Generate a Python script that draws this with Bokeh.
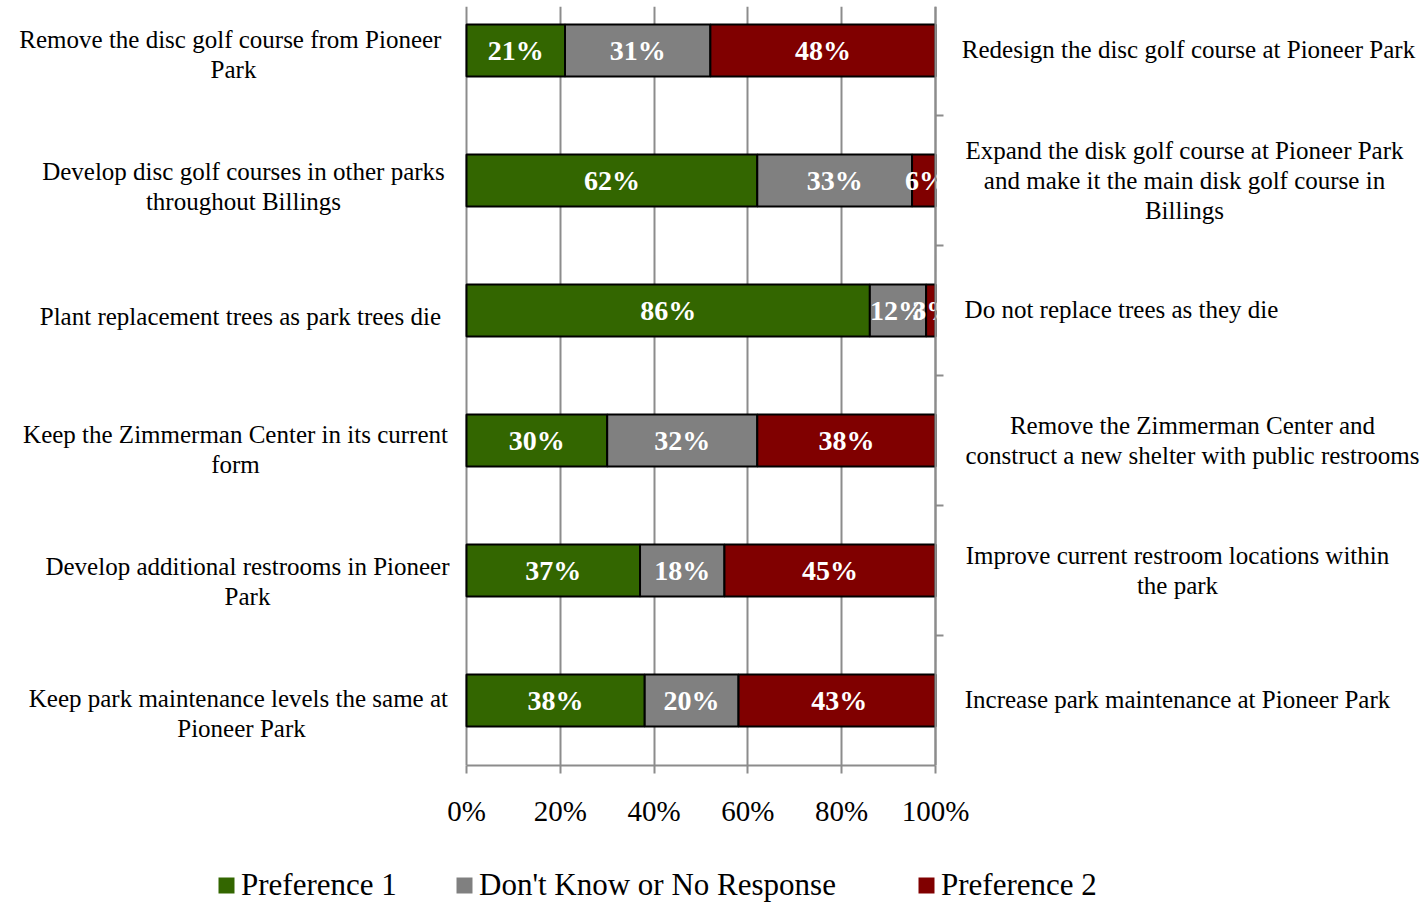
from bokeh.plotting import figure
from bokeh.models import ColumnDataSource, Range1d, FixedTicker, Legend, LegendItem
from bokeh.layouts import column
from bokeh.embed import file_html
from bokeh.resources import INLINE
from bokeh.core.properties import value

# ---------------- data (top row first) ----------------
left_labels = [
    "Remove the disc golf course  from Pioneer\nPark",
    "Develop disc golf courses in other parks\nthroughout Billings",
    "Plant replacement trees as  park trees die",
    "Keep the Zimmerman Center in its current\nform",
    "Develop additional restrooms in Pioneer\nPark",
    "Keep park maintenance levels the same  at\nPioneer Park",
]
right_labels = [
    "Redesign the disc golf course at Pioneer Park",
    "Expand the disk golf course at Pioneer Park\nand make it the main disk golf course in\nBillings",
    "Do not replace trees as they die",
    "Remove the Zimmerman Center and\nconstruct a new shelter with public restrooms",
    "Improve current restroom locations within\nthe park",
    "Increase park maintenance at Pioneer Park",
]
pref1 = [21, 62, 86, 30, 37, 38]
dont_know = [31, 33, 12, 32, 18, 20]
pref2 = [48, 6, 3, 38, 45, 43]
series_names = ["Preference 1", "Don't Know or No Response", "Preference 2"]
x_ticks = [0, 20, 40, 60, 80, 100]
x_tick_labels = ["0%", "20%", "40%", "60%", "80%", "100%"]

# ---------------- styling / layout (page pixels) ----------------
FONT = "Liberation Serif"
colors = ["#336600", "#808080", "#800000"]
grid_col = "#8c8c8c"
left_center_px = [233, 243, 243, 235, 247, 241]      # label block centres
right_center_px = [1188, 1184, 1121, 1192, 1177, 1177]
left_dy_px = [4, 6, 6, 9, 11, 13]                     # label block shift down
right_dy_px = [-1, 0, -1, 0, 0, -1]
legend_x_px = [216, 454, 916]
PAGE_W = 1426
ZERO_PX, HUNDRED_PX, FRAME_T, FRAME_B = 466, 935, 6, 765
ROW0_Y, ROW_STEP = 700, 130                           # bottom row centre, row pitch
MAIN_H = 855
LEG_H = 48
TICK_OUT = 8

n = len(pref1)
ypos = [n - 1 - i for i in range(n)]
PX_PER_UNIT = (HUNDRED_PX - ZERO_PX) / 100.0


def px_to_x(px):
    return (px - ZERO_PX) / PX_PER_UNIT


def px_to_row(py):
    return (ROW0_Y - py) / ROW_STEP


# ---------------- main chart (frame spans full width) ----------------
p = figure(frame_width=PAGE_W, frame_height=FRAME_B - FRAME_T,
           min_border_left=0, min_border_right=0,
           min_border_top=FRAME_T, min_border_bottom=MAIN_H - FRAME_B,
           x_range=Range1d(px_to_x(0), px_to_x(PAGE_W)),
           y_range=Range1d(px_to_row(FRAME_B), px_to_row(FRAME_T)),
           output_backend="svg", toolbar_location=None, y_axis_location=None)
p.outline_line_color = None
p.ygrid.grid_line_color = None
p.xgrid.ticker = FixedTicker(ticks=x_ticks)
p.xgrid.grid_line_color = grid_col
p.xgrid.grid_line_width = 2

lefts = [[0] * n, pref1, [a + b for a, b in zip(pref1, dont_know)]]
vals = [pref1, dont_know, pref2]
for k in range(3):
    rights = [min(l + v, 100) for l, v in zip(lefts[k], vals[k])]
    mids = [(l + l + v) / 2 for l, v in zip(lefts[k], vals[k])]
    src = ColumnDataSource(dict(y=ypos, left=lefts[k], right=rights, mid=mids,
                                lab=[f"{v}%" for v in vals[k]]))
    p.hbar(y="y", left="left", right="right", height=0.4, source=src,
           fill_color=colors[k], line_color="black", line_width=2)

# value labels: text beyond the 100% edge is cut like in the original
cut = ColumnDataSource(dict(x=[], y=[], t=[]))
for k in range(3):
    mids = [(l + l + v) / 2 for l, v in zip(lefts[k], vals[k])]
    src = ColumnDataSource(dict(x=mids, y=ypos, t=[f"{v}%" for v in vals[k]]))
    p.text(x="x", y="y", text="t", source=src, text_align="center",
           text_baseline="middle", text_color="white", text_font=value(FONT),
           text_font_size="28px", text_font_style="bold")
# white mask right of 100% hides overflowing value labels
p.hbar(y=ypos, left=[100.3] * n, right=[100 + 60 / PX_PER_UNIT] * n, height=0.6,
       fill_color="white", line_color=None)
p.xgrid.level = "underlay"

# right category axis: line at 100% plus outward ticks between categories
bounds = [i + 0.5 for i in range(n - 1)]
p.segment(x0=[100] * len(bounds), x1=[100 + TICK_OUT / PX_PER_UNIT] * len(bounds),
          y0=bounds, y1=bounds, line_color=grid_col, line_width=2)
p.segment(x0=[100], x1=[100], y0=[px_to_row(FRAME_B)], y1=[px_to_row(FRAME_T)],
          line_color=grid_col, line_width=2)

xa = p.xaxis[0]
xa.ticker = FixedTicker(ticks=x_ticks)
xa.bounds = (0, 100)
xa.major_label_overrides = {t: l for t, l in zip(x_ticks, x_tick_labels)}
xa.axis_line_color = grid_col
xa.axis_line_width = 2
xa.major_tick_line_color = grid_col
xa.major_tick_line_width = 2
xa.major_tick_out = TICK_OUT
xa.major_tick_in = 0
xa.minor_tick_line_color = None
xa.major_label_text_font = FONT
xa.major_label_text_font_size = "29px"
xa.major_label_text_color = "black"
xa.major_label_standoff = 21

# category texts on both sides
for labels, centers, dys in ((left_labels, left_center_px, left_dy_px),
                             (right_labels, right_center_px, right_dy_px)):
    src = ColumnDataSource(dict(x=[px_to_x(c) for c in centers],
                                y=[y - d / ROW_STEP for y, d in zip(ypos, dys)],
                                t=labels))
    p.text(x="x", y="y", text="t", source=src, text_align="center", text_baseline="middle",
           text_font=value(FONT), text_font_size="25px", text_color="black",
           text_line_height=1.12)

# ---------------- legend strip ----------------
lg = figure(width=PAGE_W, height=LEG_H, x_range=Range1d(0, 1), y_range=Range1d(0, 1),
            min_border=0, x_axis_location=None, y_axis_location=None,
            output_backend="svg", toolbar_location=None)
lg.outline_line_color = None
lg.grid.grid_line_color = None
for k in range(3):
    # legend swatch only: drawn outside the visible strip range
    r = lg.hbar(y=[5], left=[5], right=[6], height=0.4, fill_color=colors[k], line_color=None)
    lg.add_layout(Legend(items=[LegendItem(label=series_names[k], renderers=[r])],
                         location=(legend_x_px[k], 0),
                         background_fill_alpha=0, border_line_color=None,
                         label_text_font=FONT, label_text_font_size="31px",
                         label_text_color="black", glyph_width=20, glyph_height=20,
                         label_standoff=5, padding=0, margin=0))

layout = column(p, lg, spacing=0)
open("out.html", "w").write(file_html(layout, INLINE))
